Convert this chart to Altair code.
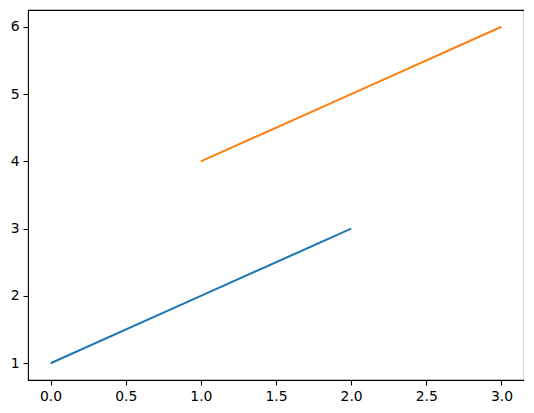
import altair as alt
import pandas as pd

x_blue = [0, 1, 2]
y_blue = [1, 2, 3]
x_orange = [1, 2, 3]
y_orange = [4, 5, 6]
x_ticks = [0.0, 0.5, 1.0, 1.5, 2.0, 2.5, 3.0]
y_ticks = [1, 2, 3, 4, 5, 6]

df = pd.DataFrame({
    "x": x_blue + x_orange,
    "y": y_blue + y_orange,
    "s": ["a"] * len(x_blue) + ["b"] * len(x_orange),
})

axis_common = dict(
    grid=False,
    domain=False,
    tickColor="black",
    tickSize=5,
    tickWidth=1.1,
    labelColor="black",
    labelFont="DejaVu Sans",
    labelFontSize=13.9,
    labelPadding=4,
    title=None,
)

chart = alt.Chart(df).mark_line(strokeWidth=2.1).encode(
    x=alt.X("x:Q", scale=alt.Scale(domain=[-0.15, 3.15], nice=False, zero=False),
            axis=alt.Axis(values=x_ticks, format=".1f", **axis_common)),
    y=alt.Y("y:Q", scale=alt.Scale(domain=[0.75, 6.25], nice=False, zero=False),
            axis=alt.Axis(values=y_ticks, format="d", **axis_common)),
    color=alt.Color("s:N", scale=alt.Scale(domain=["a", "b"], range=["#1f77b4", "#ff7f0e"]), legend=None),
    detail="s:N",
).properties(
    width=496,
    height=370,
    autosize=alt.AutoSizeParams(type="none"),
    padding={"left": 20, "top": 2, "right": 0, "bottom": 25},
).configure_view(stroke="black", strokeWidth=1.1)

chart.save("out.html", embed_options={"renderer": "svg", "actions": False})
